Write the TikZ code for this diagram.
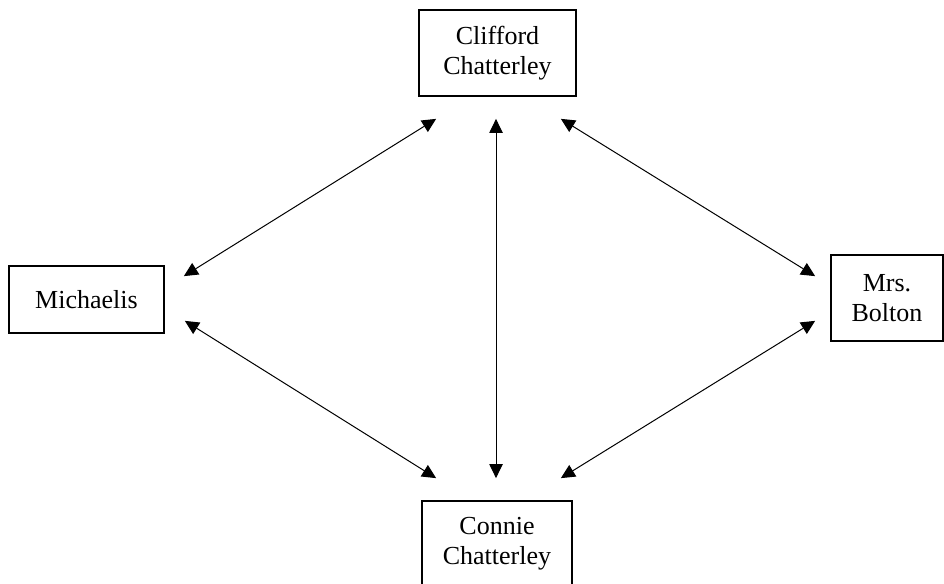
\documentclass[tikz,border=0pt]{standalone}
\usepackage{fontspec}
\setmainfont{Liberation Serif}
\usetikzlibrary{arrows.meta,calc}

\begin{document}
\begin{tikzpicture}[x=0.75pt,y=-0.75pt,
  person/.style={draw, line width=1.3pt, align=center, inner sep=0pt,
    font=\fontsize{19.5}{22.5}\selectfont},
  link/.style={line width=0.75pt,
    {Triangle[length=10.5pt,width=10pt]}-{Triangle[length=10.5pt,width=10pt]}}]
  \useasboundingbox (0,0) rectangle (944,584);
  \clip (0,0) rectangle (944,584);

  % the four characters
  \node[person, minimum width=117.75pt, minimum height=64.5pt] (cliff)  at (497.5,53)  {Clifford\\Chatterley};
  \node[person, minimum width=116.25pt, minimum height=50.25pt] (mich)  at (86.5,299.5) {Michaelis};
  \node[person, minimum width=84pt,     minimum height=64.5pt] (bolton) at (887,298)    {Mrs.\\Bolton};
  \node[person, minimum width=112.5pt,  minimum height=64.5pt] (connie) at (497,544)    {Connie\\Chatterley};

  % relationships, all two-way
  \draw[link] ([shift={(18,22)}]cliff.south west)  -- ([shift={(19,11)}]mich.north east);
  \draw[link] ([shift={(-1.5,22)}]cliff.south)     -- ([shift={(-1,-22)}]connie.north);
  \draw[link] ([shift={(-16,22)}]cliff.south east) -- ([shift={(-15,22)}]bolton.north west);
  \draw[link] ([shift={(20,-13)}]mich.south east)  -- ([shift={(15,-22)}]connie.north west);
  \draw[link] ([shift={(-15,-21)}]bolton.south west) -- ([shift={(-12,-22)}]connie.north east);
\end{tikzpicture}
\end{document}
